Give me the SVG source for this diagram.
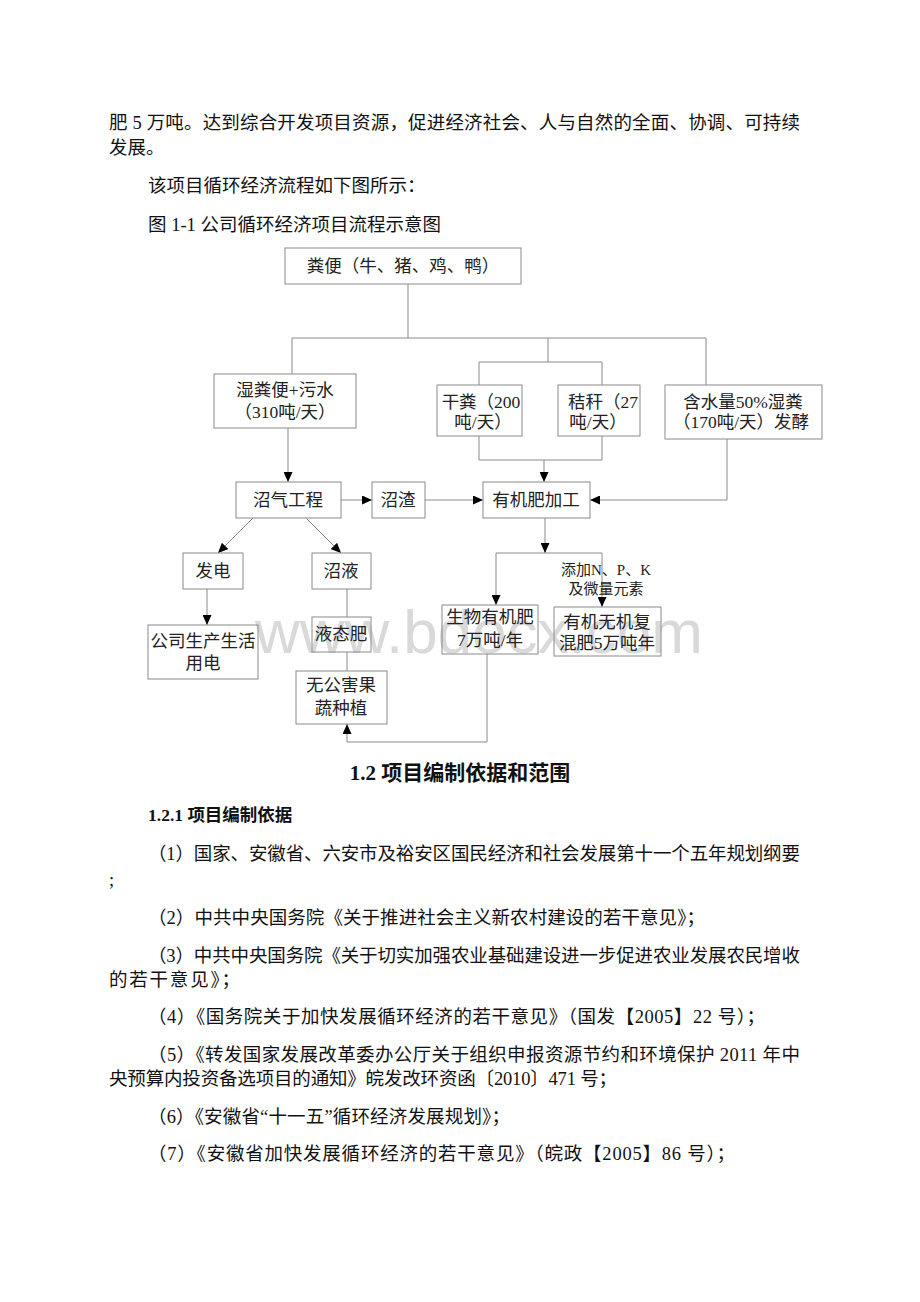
<svg xmlns="http://www.w3.org/2000/svg" width="920" height="1302" viewBox="0 0 920 1302">
<style>
.body{font-family:"Liberation Serif","Noto Sans CJK SC",serif;font-size:18.5px;fill:#111}
.h{font-family:"Liberation Serif","Noto Sans CJK SC",serif;font-weight:bold;fill:#111}
.box{fill:none;stroke:#8a8a8a;stroke-width:1}
.t{font-family:"Liberation Serif","Noto Sans CJK SC",serif;font-size:17.5px;fill:#222;text-anchor:middle}
.s{font-family:"Liberation Serif","Noto Sans CJK SC",serif;font-size:15px;fill:#222;text-anchor:middle}
.c{fill:none;stroke:#8a8a8a;stroke-width:1}
.wm{font-family:"Liberation Sans",Arial,sans-serif;font-size:62px;fill:#d9d9d9}
</style>
<defs>
<marker id="ar" markerUnits="userSpaceOnUse" markerWidth="10" markerHeight="9" refX="10" refY="4.5" orient="auto">
<path d="M0,0 L10,4.5 L0,9 z" fill="#000"/>
</marker>
</defs>
<rect width="920" height="1302" fill="#fff"/>

<text class="wm" x="255" y="653">www.bdocx.com</text>

<g id="para">
<text class="body" x="109" y="129" textLength="691" lengthAdjust="spacing">肥 5 万吨。达到综合开发项目资源，促进经济社会、人与自然的全面、协调、可持续</text>
<text class="body" x="109" y="154">发展。</text>
<text class="body" x="148" y="192">该项目循环经济流程如下图所示：</text>
<text class="body" x="148" y="231">图 1-1 公司循环经济项目流程示意图</text>
</g>

<g id="connectors">
<polyline class="c" points="408,284 408,338"/>
<polyline class="c" points="292,374 292,338 706,338 706,385"/>
<polyline class="c" points="548,338 548,362"/>
<polyline class="c" points="479,385 479,362 602,362 602,385"/>
<polyline class="c" points="479,436 479,460 602,460 602,436"/>
<polyline class="c" points="544,460 544,482" marker-end="url(#ar)"/>
<polyline class="c" points="727,439 727,500 590,500" marker-end="url(#ar)"/>
<polyline class="c" points="288,428 288,482" marker-end="url(#ar)"/>
<polyline class="c" points="341,500 372,500" marker-end="url(#ar)"/>
<polyline class="c" points="425,500 483,500" marker-end="url(#ar)"/>
<polyline class="c" points="545,518 545,553" marker-end="url(#ar)"/>
<polyline class="c" points="496,553 602,553"/>
<polyline class="c" points="496,553 496,605" marker-end="url(#ar)"/>
<polyline class="c" points="602,553 602,607" marker-end="url(#ar)"/>
<polyline class="c" points="253,518 218,553" marker-end="url(#ar)"/>
<polyline class="c" points="306,518 341,553" marker-end="url(#ar)"/>
<polyline class="c" points="207,589 207,625" marker-end="url(#ar)"/>
<polyline class="c" points="347,589 347,617"/>
<polyline class="c" points="347,652 347,671"/>
<polyline class="c" points="487,654 487,742 347,742 347,724" marker-end="url(#ar)"/>
</g>

<g id="n_fenbian"><rect class="box" x="285" y="248" width="236" height="36"/><text class="t" x="403" y="272">粪便（牛、猪、鸡、鸭）</text></g>
<g id="n_shifen"><rect class="box" x="214" y="374" width="142" height="54"/><text class="t" x="285" y="396">湿粪便+污水</text><text class="t" x="285" y="418">（310吨/天）</text></g>
<g id="n_ganfen"><rect class="box" x="437" y="385" width="85" height="51"/><text class="t" x="481" y="408">干粪（200</text><text class="t" x="483" y="428">吨/天）</text></g>
<g id="n_jiegan"><rect class="box" x="558" y="385" width="82" height="51"/><text class="t" x="603" y="408">秸秆（27</text><text class="t" x="598" y="428">吨/天）</text></g>
<g id="n_hanshui"><rect class="box" x="665" y="385" width="157" height="54"/><text class="t" x="743" y="408">含水量50%湿粪</text><text class="t" x="741" y="428">（170吨/天）发酵</text></g>
<g id="n_zhaoqi"><rect class="box" x="236" y="482" width="105" height="36"/><text class="t" x="288" y="506">沼气工程</text></g>
<g id="n_zhaozha"><rect class="box" x="372" y="482" width="53" height="36"/><text class="t" x="398" y="506">沼渣</text></g>
<g id="n_youjifei"><rect class="box" x="483" y="482" width="107" height="36"/><text class="t" x="536" y="506">有机肥加工</text></g>
<g id="n_fadian"><rect class="box" x="183" y="553" width="60" height="36"/><text class="t" x="213" y="577">发电</text></g>
<g id="n_zhaoye"><rect class="box" x="312" y="553" width="59" height="36"/><text class="t" x="341" y="577">沼液</text></g>
<g id="l_tianjia"><text class="s" x="606" y="575">添加N、P、K</text><text class="s" x="606" y="594">及微量元素</text></g>
<g id="n_shengwu"><rect class="box" x="442" y="605" width="96" height="49"/><text class="t" x="490" y="623">生物有机肥</text><text class="t" x="490" y="646">7万吨/年</text></g>
<g id="n_fuhe"><rect class="box" x="554" y="607" width="107" height="49"/><text class="t" x="607" y="628">有机无机复</text><text class="t" x="607" y="649">混肥5万吨年</text></g>
<g id="n_yongdian"><rect class="box" x="148" y="625" width="110" height="54"/><text class="t" x="203" y="647">公司生产生活</text><text class="t" x="203" y="669">用电</text></g>
<g id="n_yetai"><rect class="box" x="312" y="617" width="59" height="35"/><text class="t" x="341" y="640">液态肥</text></g>
<g id="n_wugonghai"><rect class="box" x="296" y="671" width="91" height="53"/><text class="t" x="341" y="691">无公害果</text><text class="t" x="341" y="714">蔬种植</text></g>

<g id="section">
<text class="h" x="460" y="780" font-size="21" text-anchor="middle">1.2 项目编制依据和范围</text>
<text class="h" x="148" y="821" font-size="17.5">1.2.1 项目编制依据</text>
<text class="body" x="148" y="860" textLength="652" lengthAdjust="spacing">（1）国家、安徽省、六安市及裕安区国民经济和社会发展第十一个五年规划纲要</text>
<text class="body" x="109" y="886">;</text>
<text class="body" x="148" y="924" textLength="557" lengthAdjust="spacing">（2）中共中央国务院《关于推进社会主义新农村建设的若干意见》；</text>
<text class="body" x="148" y="962" textLength="652" lengthAdjust="spacing">（3）中共中央国务院《关于切实加强农业基础建设进一步促进农业发展农民增收</text>
<text class="body" x="109" y="986" textLength="131" lengthAdjust="spacing">的若干意见》；</text>
<text class="body" x="148" y="1023" textLength="617" lengthAdjust="spacing">（4）《国务院关于加快发展循环经济的若干意见》（国发【2005】22 号）；</text>
<text class="body" x="148" y="1061" textLength="652" lengthAdjust="spacing">（5）《转发国家发展改革委办公厅关于组织申报资源节约和环境保护 2011 年中</text>
<text class="body" x="109" y="1085" textLength="508" lengthAdjust="spacing">央预算内投资备选项目的通知》皖发改环资函〔2010〕471 号；</text>
<text class="body" x="148" y="1123" textLength="362" lengthAdjust="spacing">（6）《安徽省“十一五”循环经济发展规划》；</text>
<text class="body" x="148" y="1160" textLength="587" lengthAdjust="spacing">（7）《安徽省加快发展循环经济的若干意见》（皖政【2005】86 号）；</text>
</g>
</svg>
